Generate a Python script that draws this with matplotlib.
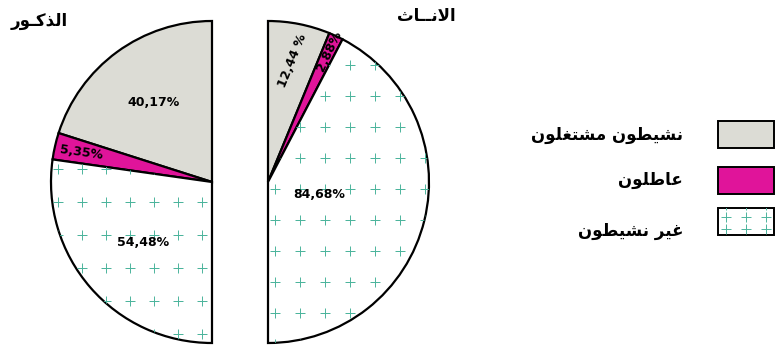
import numpy as np
import matplotlib
matplotlib.use("Agg")
import matplotlib.pyplot as plt
from matplotlib.patches import Rectangle

# ---- data
categories = ["نشيطون مشتغلون", "عاطلون", "غير نشيطون"]
groups = ["الذكـور", "الانــاث"]
male_values = [40.17, 5.35, 54.48]
female_values = [12.44, 2.88, 84.68]
male_labels = ["40,17%", "5,35%", "54,48%"]
female_labels = ["12,44 %", "2,88%", "84,68%"]

colors = ["#dcdcd5", "#e0149a", "white"]
plus_color = "#4cb49c"

# ---- tiny arabic shaper (matplotlib has no complex text layout)
FOUR = {'ب': 0xFE8F, 'ت': 0xFE95, 'ث': 0xFE99, 'ج': 0xFE9D, 'ح': 0xFEA1, 'خ': 0xFEA5,
        'س': 0xFEB1, 'ش': 0xFEB5, 'ص': 0xFEB9, 'ض': 0xFEBD, 'ط': 0xFEC1, 'ظ': 0xFEC5,
        'ع': 0xFEC9, 'غ': 0xFECD, 'ف': 0xFED1, 'ق': 0xFED5, 'ك': 0xFED9, 'ل': 0xFEDD,
        'م': 0xFEE1, 'ن': 0xFEE5, 'ه': 0xFEE9, 'ي': 0xFEF1, 'ئ': 0xFE89}
TWO = {'آ': 0xFE81, 'أ': 0xFE83, 'ؤ': 0xFE85, 'إ': 0xFE87, 'ا': 0xFE8D, 'ة': 0xFE93,
       'د': 0xFEA9, 'ذ': 0xFEAB, 'ر': 0xFEAD, 'ز': 0xFEAF, 'و': 0xFEED, 'ى': 0xFEEF}
TATWEEL = 'ـ'


def shape(text):
    out = []
    i = 0
    while i < len(text):
        c = text[i]
        prev = text[i - 1] if i > 0 else None
        nxt = text[i + 1] if i + 1 < len(text) else None
        join_prev = prev is not None and (prev in FOUR or prev == TATWEEL)
        if c == 'ل' and nxt == 'ا':
            out.append(chr(0xFEFC if join_prev else 0xFEFB))
            i += 2
            continue
        join_next = c in FOUR and nxt is not None and (nxt in FOUR or nxt in TWO or nxt == TATWEEL)
        if c in FOUR:
            base = FOUR[c]
            code = base + (3 if join_prev and join_next else 2 if join_next else 1 if join_prev else 0)
            out.append(chr(code))
        elif c in TWO:
            out.append(chr(TWO[c] + (1 if join_prev else 0)))
        else:
            out.append(c)
        i += 1
    return ''.join(reversed(out))


W, H = 776, 351
fig = plt.figure(figsize=(W / 100, H / 100), dpi=100)
ax = fig.add_axes([0, 0, 1, 1])
R = 161


def plus_fill(patch, anchor, dx, dy):
    # '+' texture laid on a grid through anchor, clipped to the patch
    x0, y0, w, h = patch.get_path().get_extents(patch.get_patch_transform()).bounds \
        if isinstance(patch, Rectangle) else patch.get_path().get_extents().bounds
    ax_, ay_ = anchor
    xs = np.arange(ax_ - np.ceil((ax_ - x0) / dx) * dx, x0 + w + dx, dx)
    ys = np.arange(ay_ - np.ceil((ay_ - y0) / dy) * dy, y0 + h + dy, dy)
    gx, gy = np.meshgrid(xs, ys)
    sc = ax.scatter(gx.ravel(), gy.ravel(), marker='+', s=48, color=plus_color,
                    linewidths=0.7, zorder=patch.get_zorder() + 0.1)
    sc.set_clip_path(patch)


def half_pie(values, labels, center, counterclock, label_layout, anchor, dx, dy):
    wedges, _ = ax.pie(values + [sum(values)], colors=colors + ['none'], startangle=90,
                       counterclock=counterclock, center=center, radius=R,
                       wedgeprops=dict(edgecolor='black', linewidth=1.6))
    wedges[-1].set_visible(False)
    for w in wedges[:3]:
        w.set_zorder(2)
    cx, cy = center
    plus_fill(wedges[2], anchor, dx, dy)
    for w, lab, (fr, rot) in zip(wedges, labels, label_layout):
        mid = np.deg2rad((w.theta1 + w.theta2) / 2)
        ax.text(cx + fr * R * np.cos(mid), cy + fr * R * np.sin(mid), lab,
                ha='center', va='center', rotation=rot, fontsize=9,
                fontweight='bold', zorder=5)


half_pie(male_values, male_labels, (212, H - 182), True,
         [(0.61, 0), (0.83, -8), (0.57, 0)], (58, H - 202), 24, 33)
half_pie(female_values, female_labels, (268, H - 182), False,
         [(0.77, 68), (0.9, 65), (0.33, 0)], (275, H - 65), 25, 31)

# group titles
ax.text(39, H - 21, shape(groups[0]), ha='center', va='center', fontsize=12, fontweight='bold')
ax.text(426, H - 16, shape(groups[1]), ha='center', va='center', fontsize=12, fontweight='bold')

# legend
box_y = [135, 181, 222]
text_y = [135, 180, 231]
for k, (cat, col) in enumerate(zip(categories, colors)):
    rect = Rectangle((718, H - box_y[k] - 13), 56, 27, facecolor=col,
                     edgecolor='black', linewidth=1.4, zorder=2)
    ax.add_patch(rect)
    if k == 2:
        plus_fill(rect, (726, H - box_y[k] + 5), 20, 12)
    ax.text(683, H - text_y[k], shape(cat), ha='right', va='center',
            fontsize=12, fontweight='bold')

ax.set_xlim(0, W)
ax.set_ylim(0, H)
ax.set_aspect('equal')
ax.axis('off')
fig.savefig("out.png", dpi=100)
